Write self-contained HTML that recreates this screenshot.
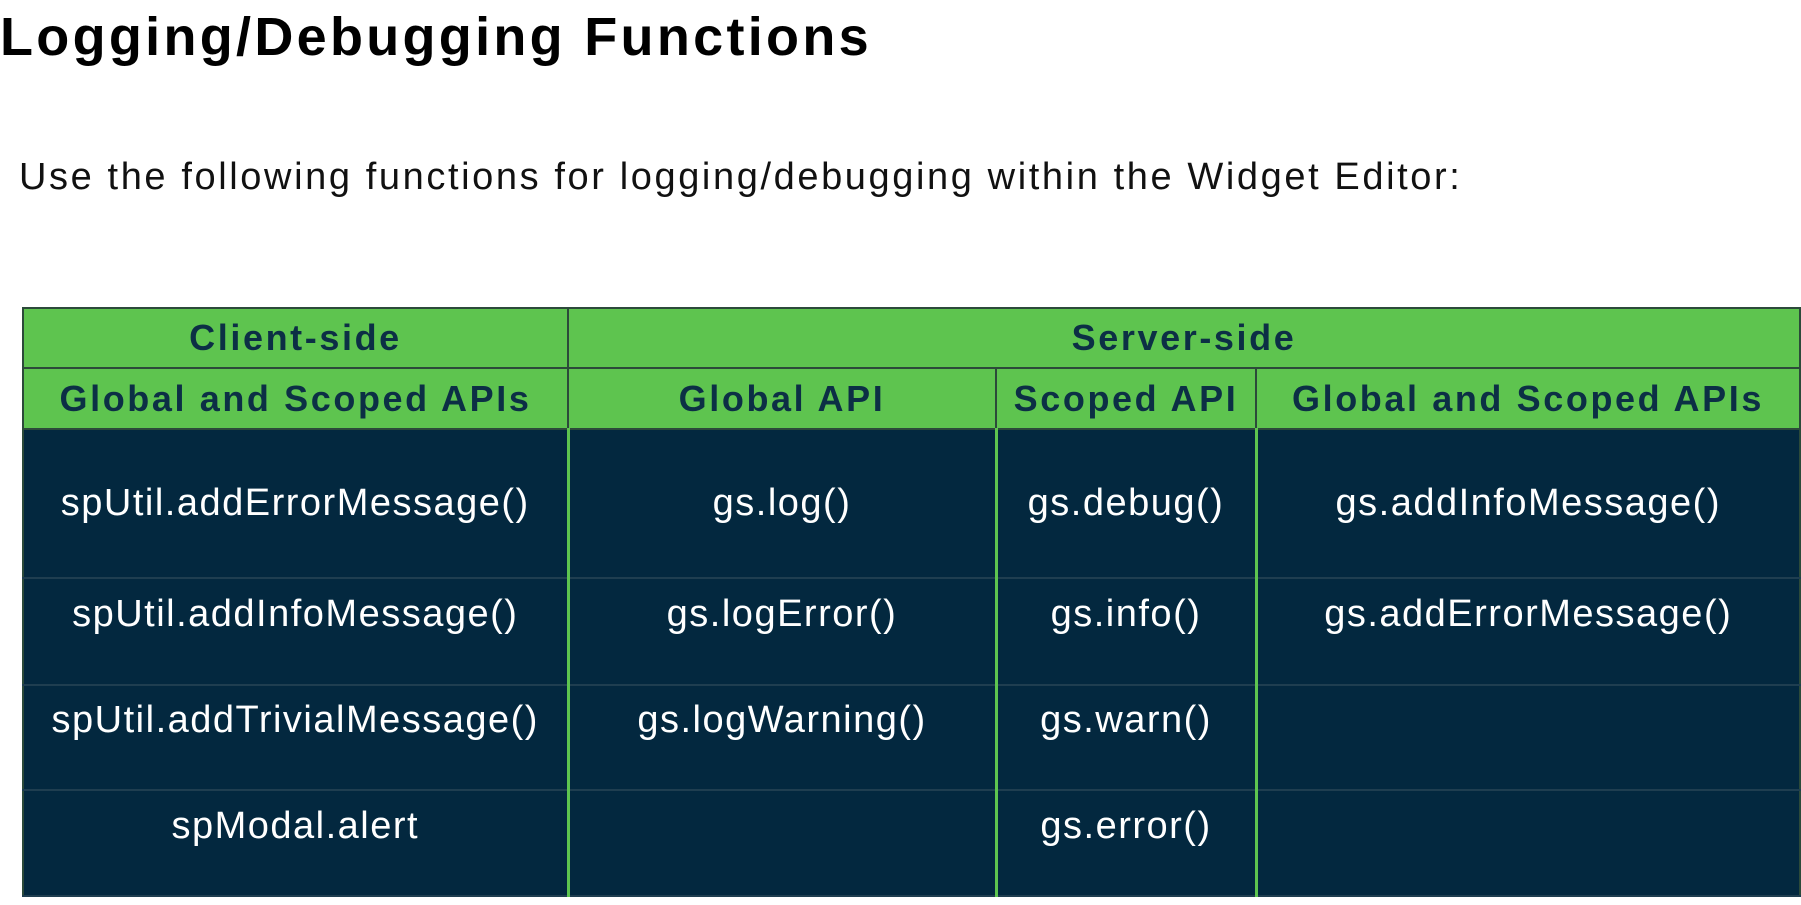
<!DOCTYPE html>
<html><head><meta charset="utf-8"><style>
body{margin:0;width:1801px;height:905px;background:#fff;position:relative;overflow:hidden;font-family:"Liberation Sans",sans-serif}
h1{position:absolute;left:0;top:6px;margin:0;font-size:54px;font-weight:bold;color:#000;letter-spacing:3.3px}
.sub{position:absolute;left:19px;top:156px;font-size:38px;color:#111;letter-spacing:2.6px}
table{position:absolute;left:22px;top:307px;width:1777px;height:590px;border-collapse:collapse;table-layout:fixed}
td{text-align:center;vertical-align:middle;padding:0}
.h td{background:#5ec44f;color:#0c2f45;font-weight:bold;font-size:36px;letter-spacing:2.6px;border:2px solid #2c4a3a;height:58px}
.b td{background:#03283f;color:#fff;font-size:38px;letter-spacing:1.5px;border-left:3px solid #5ec44f;border-right:3px solid #5ec44f;border-top:2px solid #1f3e50;border-bottom:2px solid #1f3e50}
.b td:first-child{border-left:2px solid #2c4a3a}
.b td:last-child{border-right:2px solid #2c4a3a}
.up td{padding-bottom:34px}
</style></head><body>
<h1>Logging/Debugging Functions</h1>
<div class="sub">Use the following functions for logging/debugging within the Widget Editor:</div>
<table>
<colgroup><col style="width:545px"><col style="width:428px"><col style="width:260px"><col style="width:544px"></colgroup>
<tr class="h"><td>Client-side</td><td colspan="3">Server-side</td></tr>
<tr class="h"><td>Global and Scoped APIs</td><td>Global API</td><td>Scoped API</td><td>Global and Scoped APIs</td></tr>
<tr class="b" style="height:148px"><td>spUtil.addErrorMessage()</td><td>gs.log()</td><td>gs.debug()</td><td>gs.addInfoMessage()</td></tr>
<tr class="b up" style="height:106px"><td>spUtil.addInfoMessage()</td><td>gs.logError()</td><td>gs.info()</td><td>gs.addErrorMessage()</td></tr>
<tr class="b up" style="height:105px"><td>spUtil.addTrivialMessage()</td><td>gs.logWarning()</td><td>gs.warn()</td><td></td></tr>
<tr class="b up" style="height:105px"><td>spModal.alert</td><td></td><td>gs.error()</td><td></td></tr>
</table>
</body></html>
